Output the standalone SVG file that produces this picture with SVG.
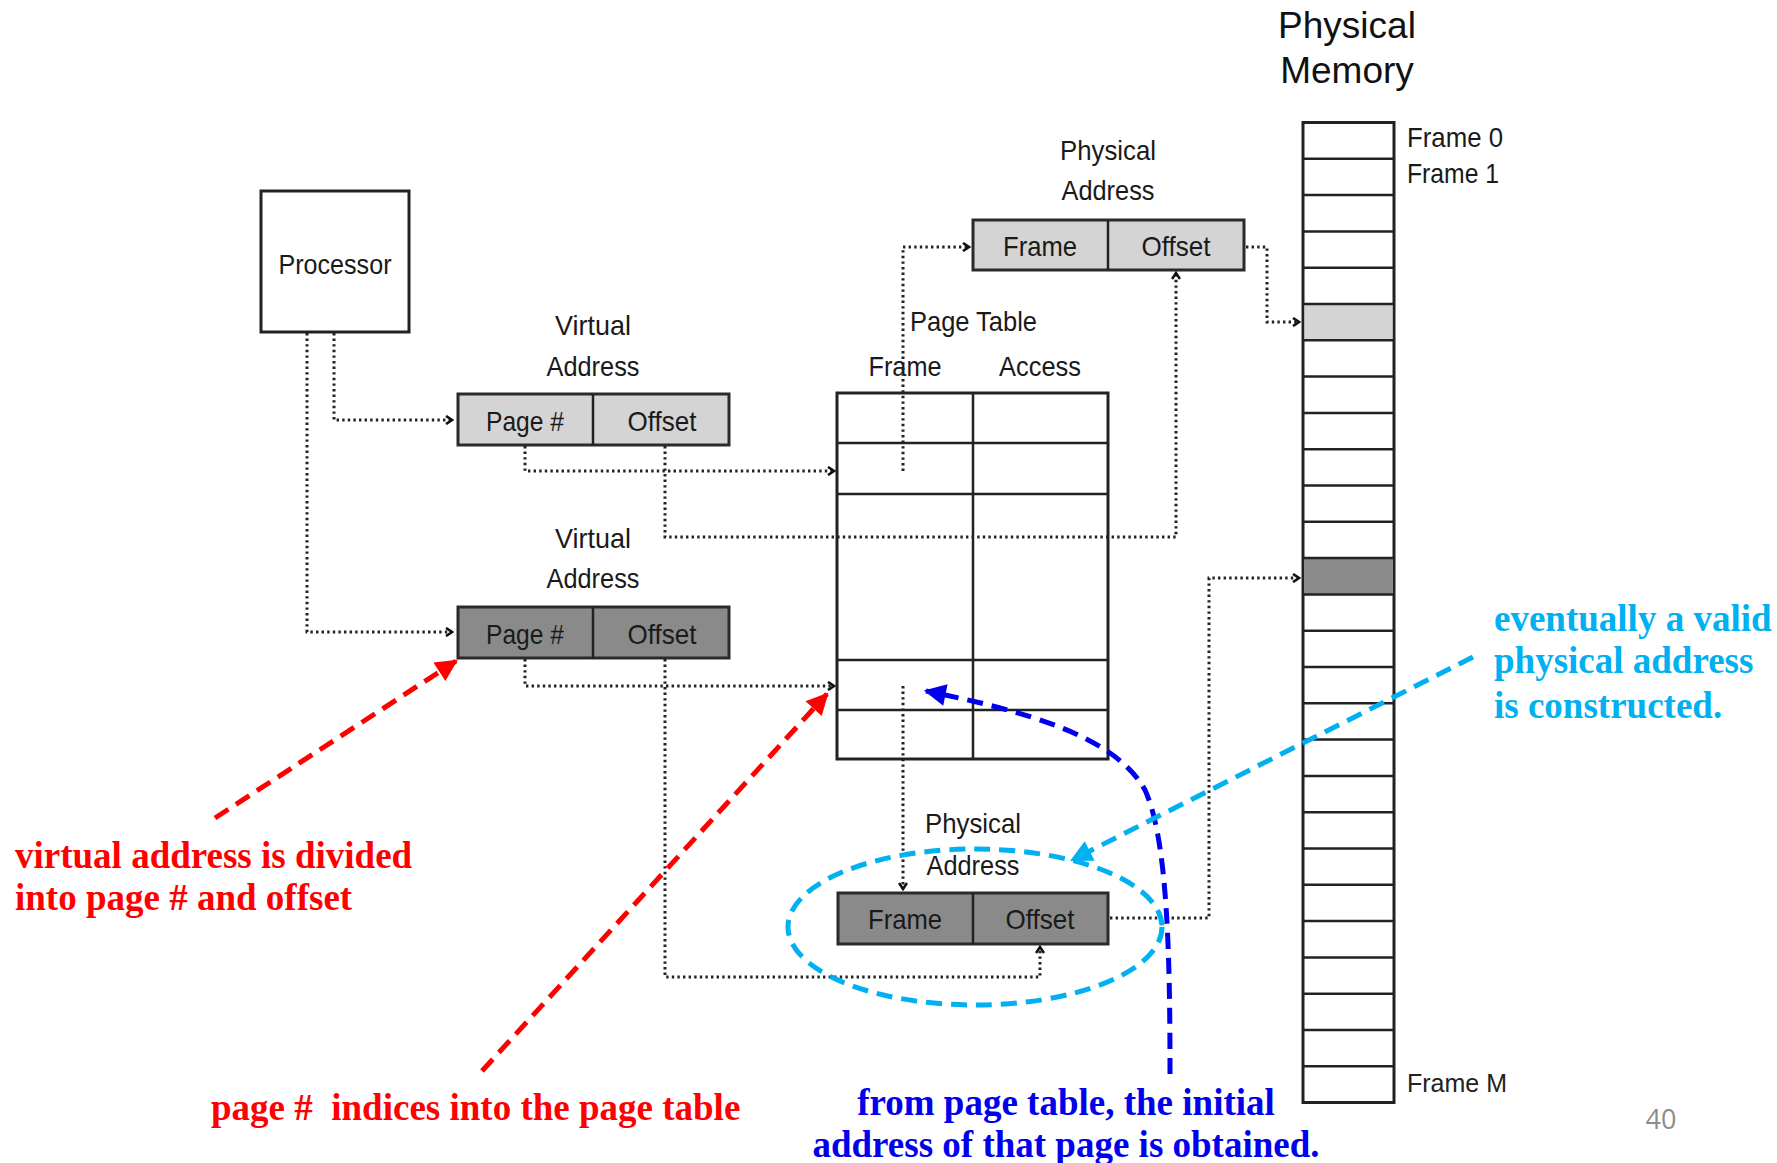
<svg xmlns="http://www.w3.org/2000/svg" width="1777" height="1163" viewBox="0 0 1777 1163">
  <style>
    .box { fill: #fff; stroke: #222; stroke-width: 3; }
    .light { fill: #d4d4d4; stroke: #2a2a2a; stroke-width: 3; }
    .dark { fill: #8a8a8a; stroke: #2a2a2a; stroke-width: 3; }
    .grid { stroke: #222; stroke-width: 2.5; fill: none; }
    .lbl { font-family: "Liberation Sans Narrow", "Liberation Sans", sans-serif; font-size: 28px; fill: #1a1a1a; text-anchor: middle; dominant-baseline: central; }
    .lbl-l { text-anchor: start; }
    .title { font-family: "Liberation Sans", Arial, sans-serif; font-size: 37px; fill: #111; text-anchor: middle; dominant-baseline: central; }
    .wide { font-family: "Liberation Sans", Arial, sans-serif; font-size: 25px; fill: #222; dominant-baseline: central; }
    .dot { fill: none; stroke: #222; stroke-width: 3; stroke-dasharray: 2.4 3.2; marker-end: url(#chev); }
    .note { font-family: "Liberation Serif", "Times New Roman", serif; font-weight: bold; font-size: 37px; dominant-baseline: central; }
    .red { fill: #ff0000; }
    .blue { fill: #0000ee; }
    .cyan { fill: #00b0f0; }
    .pg { font-family: "Open Sans", "Liberation Sans", sans-serif; font-size: 27px; fill: #8c8c8c; text-anchor: middle; dominant-baseline: central; }
  </style>
  <defs>
    <marker id="chev" viewBox="0 0 10 10" refX="8" refY="5" markerWidth="10" markerHeight="10" markerUnits="userSpaceOnUse" orient="auto">
      <path d="M2,1 L8,5 L2,9" fill="none" stroke="#111" stroke-width="2.6"/>
    </marker>
    <marker id="redHead" viewBox="0 0 10 10" refX="9" refY="5" markerWidth="26" markerHeight="22" markerUnits="userSpaceOnUse" orient="auto">
      <path d="M0,0 L10,5 L0,10 Z" fill="#ff0000"/>
    </marker>
    <marker id="blueHead" viewBox="0 0 10 10" refX="9" refY="5" markerWidth="26" markerHeight="22" markerUnits="userSpaceOnUse" orient="auto">
      <path d="M0,0 L10,5 L0,10 Z" fill="#0000ee"/>
    </marker>
    <marker id="cyanHead" viewBox="0 0 10 10" refX="9" refY="5" markerWidth="26" markerHeight="22" markerUnits="userSpaceOnUse" orient="auto">
      <path d="M0,0 L10,5 L0,10 Z" fill="#00b0f0"/>
    </marker>
  </defs>

  <rect width="1777" height="1163" fill="#fff"/>

  <!-- Processor -->
  <g id="processor">
    <rect class="box" x="261" y="191" width="148" height="141"/>
    <text class="lbl" x="335" y="264" textLength="113" lengthAdjust="spacingAndGlyphs">Processor</text>
  </g>

  <!-- Virtual address (first) -->
  <g id="virtual-address-1">
    <text class="lbl" x="593" y="325" textLength="76" lengthAdjust="spacingAndGlyphs">Virtual</text>
    <text class="lbl" x="593" y="366" textLength="93" lengthAdjust="spacingAndGlyphs">Address</text>
    <rect class="light" x="458" y="394" width="271" height="51"/>
    <line class="grid" x1="593" y1="394" x2="593" y2="445"/>
    <text class="lbl" x="525" y="421" textLength="78" lengthAdjust="spacingAndGlyphs">Page #</text>
    <text class="lbl" x="662" y="421" textLength="69" lengthAdjust="spacingAndGlyphs">Offset</text>
  </g>

  <!-- Virtual address (second) -->
  <g id="virtual-address-2">
    <text class="lbl" x="593" y="538" textLength="76" lengthAdjust="spacingAndGlyphs">Virtual</text>
    <text class="lbl" x="593" y="578" textLength="93" lengthAdjust="spacingAndGlyphs">Address</text>
    <rect class="dark" x="458" y="607" width="271" height="51"/>
    <line class="grid" x1="593" y1="607" x2="593" y2="658"/>
    <text class="lbl" x="525" y="634" textLength="78" lengthAdjust="spacingAndGlyphs">Page #</text>
    <text class="lbl" x="662" y="634" textLength="69" lengthAdjust="spacingAndGlyphs">Offset</text>
  </g>

  <!-- Physical address (upper) -->
  <g id="physical-address-1">
    <text class="lbl" x="1108" y="150" textLength="96" lengthAdjust="spacingAndGlyphs">Physical</text>
    <text class="lbl" x="1108" y="190" textLength="93" lengthAdjust="spacingAndGlyphs">Address</text>
    <rect class="light" x="973" y="220" width="271" height="50"/>
    <line class="grid" x1="1108" y1="220" x2="1108" y2="270"/>
    <text class="lbl" x="1040" y="246" textLength="74" lengthAdjust="spacingAndGlyphs">Frame</text>
    <text class="lbl" x="1176" y="246" textLength="69" lengthAdjust="spacingAndGlyphs">Offset</text>
  </g>

  <!-- Page table -->
  <g id="page-table">
    <text class="lbl lbl-l" x="910" y="321" textLength="127" lengthAdjust="spacingAndGlyphs">Page Table</text>
    <text class="lbl" x="905" y="366" textLength="73" lengthAdjust="spacingAndGlyphs">Frame</text>
    <text class="lbl" x="1040" y="366" textLength="82" lengthAdjust="spacingAndGlyphs">Access</text>
    <rect class="box" x="837" y="393" width="271" height="366"/>
    <line class="grid" x1="973" y1="393" x2="973" y2="759"/>
    <line class="grid" x1="837" y1="443" x2="1108" y2="443"/>
    <line class="grid" x1="837" y1="494" x2="1108" y2="494"/>
    <line class="grid" x1="837" y1="660" x2="1108" y2="660"/>
    <line class="grid" x1="837" y1="710" x2="1108" y2="710"/>
  </g>

  <!-- Physical address (lower) -->
  <g id="physical-address-2">
    <text class="lbl" x="973" y="823" textLength="96" lengthAdjust="spacingAndGlyphs">Physical</text>
    <text class="lbl" x="973" y="865" textLength="93" lengthAdjust="spacingAndGlyphs">Address</text>
    <rect class="dark" x="838" y="893" width="270" height="51"/>
    <line class="grid" x1="973" y1="893" x2="973" y2="944"/>
    <text class="lbl" x="905" y="919" textLength="74" lengthAdjust="spacingAndGlyphs">Frame</text>
    <text class="lbl" x="1040" y="919" textLength="69" lengthAdjust="spacingAndGlyphs">Offset</text>
  </g>

  <!-- Physical memory column: 27 frames -->
  <g id="physical-memory">
    <text class="title" x="1347" y="25">Physical</text>
    <text class="title" x="1347" y="70">Memory</text>
    <rect class="box" x="1303" y="122.5" width="91" height="980"/>
    <rect x="1304.5" y="304" width="88" height="36.3" fill="#d4d4d4"/>
    <rect x="1304.5" y="558" width="88" height="36.3" fill="#8a8a8a"/>
    <g class="grid" stroke-width="2.2">
      <line x1="1303" y1="158.8" x2="1394" y2="158.8"/>
      <line x1="1303" y1="195.1" x2="1394" y2="195.1"/>
      <line x1="1303" y1="231.4" x2="1394" y2="231.4"/>
      <line x1="1303" y1="267.7" x2="1394" y2="267.7"/>
      <line x1="1303" y1="304.0" x2="1394" y2="304.0"/>
      <line x1="1303" y1="340.3" x2="1394" y2="340.3"/>
      <line x1="1303" y1="376.6" x2="1394" y2="376.6"/>
      <line x1="1303" y1="412.9" x2="1394" y2="412.9"/>
      <line x1="1303" y1="449.2" x2="1394" y2="449.2"/>
      <line x1="1303" y1="485.5" x2="1394" y2="485.5"/>
      <line x1="1303" y1="521.8" x2="1394" y2="521.8"/>
      <line x1="1303" y1="558.1" x2="1394" y2="558.1"/>
      <line x1="1303" y1="594.4" x2="1394" y2="594.4"/>
      <line x1="1303" y1="630.7" x2="1394" y2="630.7"/>
      <line x1="1303" y1="667.0" x2="1394" y2="667.0"/>
      <line x1="1303" y1="703.3" x2="1394" y2="703.3"/>
      <line x1="1303" y1="739.6" x2="1394" y2="739.6"/>
      <line x1="1303" y1="775.9" x2="1394" y2="775.9"/>
      <line x1="1303" y1="812.2" x2="1394" y2="812.2"/>
      <line x1="1303" y1="848.5" x2="1394" y2="848.5"/>
      <line x1="1303" y1="884.8" x2="1394" y2="884.8"/>
      <line x1="1303" y1="921.1" x2="1394" y2="921.1"/>
      <line x1="1303" y1="957.4" x2="1394" y2="957.4"/>
      <line x1="1303" y1="993.7" x2="1394" y2="993.7"/>
      <line x1="1303" y1="1030.0" x2="1394" y2="1030.0"/>
      <line x1="1303" y1="1066.3" x2="1394" y2="1066.3"/>
    </g>
    <text class="lbl lbl-l" x="1407" y="137" textLength="96" lengthAdjust="spacingAndGlyphs">Frame 0</text>
    <text class="lbl lbl-l" x="1407" y="173" textLength="92" lengthAdjust="spacingAndGlyphs">Frame 1</text>
    <text class="wide" x="1407" y="1083">Frame M</text>
  </g>

  <!-- Dotted data-flow connectors -->
  <g id="connectors">
    <path class="dot" d="M334 333 V420 H452"/>
    <path class="dot" d="M307 333 V632 H452"/>
    <path class="dot" d="M525 446 V471 H834"/>
    <path class="dot" d="M665 446 V537 H1176 V273"/>
    <path class="dot" d="M903 471 V247 H969"/>
    <path class="dot" d="M1246 247 H1267 V322 H1299"/>
    <path class="dot" d="M525 659 V686 H834"/>
    <path class="dot" d="M665 659 V977 H1040 V947"/>
    <path class="dot" d="M903 686 V889"/>
    <path class="dot" d="M1110 918 H1209 V578 H1299"/>
  </g>

  <!-- Annotations -->
  <g id="annotations">
    <path d="M215 818 L456 661" fill="none" stroke="#ff0000" stroke-width="5" stroke-dasharray="16 9" marker-end="url(#redHead)"/>
    <path d="M482 1071 L827 694" fill="none" stroke="#ff0000" stroke-width="5" stroke-dasharray="16 9" marker-end="url(#redHead)"/>
    <path d="M1170 1074 C1170 960 1168 840 1145 790 C1115 735 1020 710 926 691" fill="none" stroke="#0000ee" stroke-width="5" stroke-dasharray="16 9" marker-end="url(#blueHead)"/>
    <ellipse cx="975" cy="927" rx="187" ry="78" fill="none" stroke="#00b0f0" stroke-width="5" stroke-dasharray="16 9"/>
    <path d="M1473 657 L1072 860" fill="none" stroke="#00b0f0" stroke-width="5" stroke-dasharray="16 9" marker-end="url(#cyanHead)"/>

    <text class="note red" x="15" y="855">virtual address is divided</text>
    <text class="note red" x="15" y="897">into page # and offset</text>
    <text class="note red" x="211" y="1107" xml:space="preserve">page #  indices into the page table</text>
    <text class="note blue" x="1066" y="1102" text-anchor="middle">from page table, the initial</text>
    <text class="note blue" x="1066" y="1144" text-anchor="middle">address of that page is obtained.</text>
    <text class="note cyan" x="1494" y="618">eventually a valid</text>
    <text class="note cyan" x="1494" y="660">physical address</text>
    <text class="note cyan" x="1494" y="705">is constructed.</text>
  </g>

  <text class="pg" x="1661" y="1118">40</text>
</svg>
